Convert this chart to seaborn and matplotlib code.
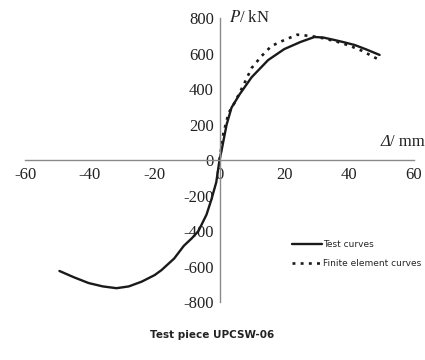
import matplotlib
matplotlib.use("Agg")
import matplotlib.pyplot as plt
import numpy as np
import pandas as pd
import seaborn as sns

# Test curve (continuous from negative to positive displacement)
test_disp = [-49.4, -45, -40.4, -36, -31.8, -28, -24, -20, -17.9, -14, -11, -8.5, -6.5, -4, -2.5, -1, 0,
             0.6, 2.2, 3.7, 6.2, 9.9, 15, 20, 25, 29.3, 32, 35.5, 38.5, 41.7, 45, 49.4]
test_load = [-625, -660, -693, -712, -722, -712, -685, -648, -620, -555, -483, -440, -400, -307, -222, -125, 0,
             51, 200, 295, 370, 466, 563, 625, 665, 693, 690, 676, 663, 648, 625, 592]

# Finite element curve (positive side only)
fe_disp = [0, 1.2, 2.8, 4.6, 7.4, 9.9, 13, 16, 20, 24, 28.4, 32, 36, 40, 44, 49.4]
fe_load = [0, 150, 265, 321, 422, 518, 586, 642, 676, 706, 698, 686, 668, 645, 615, 563]

x_ticks = [-60, -40, -20, 0, 20, 40, 60]
y_ticks = [-800, -600, -400, -200, 0, 200, 400, 600, 800]

test_df = pd.DataFrame({"disp": test_disp, "load": test_load})
fe_df = pd.DataFrame({"disp": fe_disp, "load": fe_load})

sns.set_style("white")
plt.rcParams["font.family"] = ["Liberation Serif", "DejaVu Serif"]
plt.rcParams["mathtext.fontset"] = "stix"
plt.rcParams["axes.unicode_minus"] = False

fig = plt.figure(figsize=(4.25, 3.6), dpi=100)
ax = fig.add_axes([0.059, 0.161, 0.915, 0.789])

sns.lineplot(data=test_df, x="disp", y="load", sort=False, color="#1a1a1a",
             linewidth=1.7, ax=ax, label="Test curves")
sns.lineplot(data=fe_df, x="disp", y="load", sort=False, color="#1a1a1a",
             linewidth=1.9, linestyle=(0, (1.1, 2.0)), ax=ax, label="Finite element curves")

ax.set_xlim(-60, 60)
ax.set_ylim(-800, 800)
ax.set_xticks(x_ticks)
ax.set_yticks(y_ticks)
ax.set_xlabel("")
ax.set_ylabel("")

for side in ["top", "right"]:
    ax.spines[side].set_visible(False)
ax.spines["left"].set_position("zero")
ax.spines["bottom"].set_position("zero")
for side in ["left", "bottom"]:
    ax.spines[side].set_color("#8a8a8a")
    ax.spines[side].set_linewidth(1.0)
ax.tick_params(axis="both", direction="in", length=3, color="#8a8a8a",
               labelsize=12, labelcolor="#222222")
ax.tick_params(axis="x", pad=5)
ax.tick_params(axis="y", pad=4)

ax.text(3, 800, "$P$/ kN", fontsize=12, ha="left", va="center", color="#222222", clip_on=False)
unit = ax.text(63.3, 55, "/ mm", fontsize=12, ha="right", va="bottom", color="#222222",
               clip_on=False)
ax.annotate("Δ", xy=(0, 0), xycoords=unit, ha="right", va="bottom", fontsize=12,
            style="italic", color="#222222", annotation_clip=False)

leg = ax.legend(loc="lower right", bbox_to_anchor=(1.04, 0.09), frameon=False,
                prop={"family": "DejaVu Sans", "size": 6.5},
                handlelength=3.4, handletextpad=0.1, labelspacing=1.1)

fig.text(0.5, 0.07, "Test piece UPCSW-06", ha="center", va="center", fontsize=7.5,
         family="DejaVu Sans", weight="bold", color="#222222")

fig.savefig("out.png", dpi=100)
